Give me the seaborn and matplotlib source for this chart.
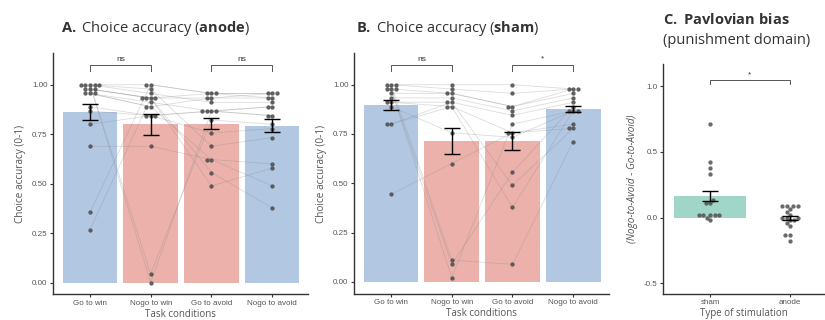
import numpy as np
import pandas as pd
import matplotlib
matplotlib.use("Agg")
import matplotlib.pyplot as plt
import seaborn as sns

# ---- data ----
conditions = ["Go to win", "Nogo to win", "Go to avoid", "Nogo to avoid"]

# anode session, one entry per subject (n = 17)
anode_go_win     = [1.0, 1.0, 0.356, 0.267, 0.689, 0.8, 1.0, 1.0, 1.0, 0.978, 0.978, 0.978, 0.956, 0.956, 0.956, 0.889, 0.867]
anode_nogo_win   = [0.0, 0.044, 1.0, 0.933, 0.689, 0.844, 1.0, 0.978, 0.956, 0.933, 0.933, 0.933, 0.911, 0.889, 0.889, 0.844, 0.844]
anode_go_avoid   = [0.867, 0.822, 0.956, 0.933, 0.622, 0.867, 0.956, 0.689, 0.911, 0.556, 0.956, 0.489, 0.867, 0.622, 0.933, 0.756, 0.867]
anode_nogo_avoid = [0.889, 0.8, 0.956, 0.956, 0.6, 0.844, 0.956, 0.733, 0.911, 0.378, 0.933, 0.578, 0.889, 0.489, 0.933, 0.778, 0.844]
anode_se = [0.040, 0.053, 0.027, 0.033]

# sham session (n = 14)
sham_go_win     = [1.0, 0.978, 0.978, 0.444, 0.8, 0.8, 1.0, 1.0, 0.978, 0.956, 0.933, 0.911, 0.911, 0.889]
sham_nogo_win   = [0.111, 0.022, 0.089, 0.6, 0.889, 0.911, 1.0, 0.978, 0.956, 0.956, 0.933, 0.911, 0.889, 0.756]
sham_go_avoid   = [0.089, 0.8, 0.556, 0.756, 0.378, 0.489, 1.0, 0.956, 0.889, 0.889, 0.867, 0.844, 0.756, 0.733]
sham_nogo_avoid = [0.711, 0.867, 0.889, 0.778, 0.867, 0.778, 0.978, 0.978, 0.956, 0.978, 0.933, 0.911, 0.8, 0.867]
sham_se = [0.026, 0.064, 0.045, 0.016]

# Pavlovian bias (Nogo-to-Avoid minus Go-to-Avoid)
stim_types = ["sham", "anode"]
bias_sham = [0.713, 0.424, 0.378, 0.335, 0.133, 0.111, 0.111, 0.022, 0.022, 0.022, 0.022, 0.022, 0.0, -0.022]
bias_anode = [0.089, 0.089, 0.089, 0.089, 0.067, 0.044, 0.022, 0.0, 0.0, 0.0, -0.022, -0.022,
              -0.044, -0.067, -0.133, -0.133, -0.178]
bias_se = [0.040, 0.015]

# colours
blue, red, teal = "#b1c7e2", "#ebb1aa", "#9fd6c7"
cond_colors = [blue, red, red, blue]
dot_color = "#505050"
text_dark = "#333333"
text_grey = "#555555"

plt.rcParams["font.family"] = ["Liberation Sans", "DejaVu Sans"]
plt.rcParams["mathtext.fontset"] = "custom"
plt.rcParams["mathtext.rm"] = "Open Sans"
plt.rcParams["mathtext.bf"] = "Open Sans:bold"
plt.rcParams["mathtext.it"] = "Open Sans:italic"


def long_table(columns):
    rows = []
    for pos, vals in enumerate(columns):
        for subj, v in enumerate(vals):
            rows.append({"subj": subj, "pos": pos, "cond": conditions[pos], "acc": v})
    return pd.DataFrame(rows)


def style_axis(ax):
    sns.despine(ax=ax)
    for side in ["left", "bottom"]:
        ax.spines[side].set_color(text_dark)
        ax.spines[side].set_linewidth(1.0)
    ax.tick_params(axis="both", length=2.5, width=0.8, color=text_dark,
                   labelsize=5.8, labelcolor=text_grey, pad=1.5)


def bracket(ax, x1, x2, y, label, drop=0.03):
    ax.plot([x1, x1, x2, x2], [y - drop, y, y, y - drop], color="#555555", lw=0.7,
            clip_on=False)
    ax.text((x1 + x2) / 2, y + 0.012, label, ha="center", va="bottom", fontsize=6,
            color=text_dark)


def accuracy_panel(ax, df, se, brackets):
    sns.barplot(data=df, x="pos", y="acc", hue="cond", hue_order=conditions,
                palette=cond_colors, native_scale=True, dodge=False, width=0.9,
                errorbar=None, saturation=1, legend=False, ax=ax, zorder=1)
    sns.lineplot(data=df, x="pos", y="acc", units="subj", estimator=None,
                 color="#8c8c8c", alpha=0.3, lw=0.6, ax=ax, legend=False, zorder=2)
    sns.swarmplot(data=df, x="pos", y="acc", native_scale=True, color=dot_color,
                  size=3.1, alpha=0.9, ax=ax, zorder=3)
    means = df.groupby("pos")["acc"].mean()
    ax.errorbar(means.index, means.values, yerr=se, fmt="none", ecolor="black",
                elinewidth=1.0, capsize=5.5, capthick=1.0, zorder=4)
    for x1, x2, label in brackets:
        bracket(ax, x1, x2, 1.1, label)
    ax.set_xlim(-0.61, 3.59)
    ax.set_ylim(-0.06, 1.16)
    ax.set_yticks([0, 0.25, 0.5, 0.75, 1.0], ["0.00", "0.25", "0.50", "0.75", "1.00"])
    ax.set_xticks(range(4), conditions)
    ax.set_xlabel("Task conditions", fontfamily="Open Sans", fontsize=7.0,
                  color=text_grey, labelpad=1.5)
    ax.set_ylabel("Choice accuracy (0-1)", fontfamily="Open Sans", fontsize=7.2,
                  color=text_grey, labelpad=4)
    style_axis(ax)


fig = plt.figure(figsize=(8.25, 3.2), dpi=100)
axA = fig.add_axes([0.0642, 0.08, 0.3091, 0.754])
axB = fig.add_axes([0.4291, 0.082, 0.3091, 0.752])
axC = fig.add_axes([0.8036, 0.082, 0.1964, 0.718])

anode_df = long_table([anode_go_win, anode_nogo_win, anode_go_avoid, anode_nogo_avoid])
sham_df = long_table([sham_go_win, sham_nogo_win, sham_go_avoid, sham_nogo_avoid])

accuracy_panel(axA, anode_df, anode_se, [(0, 1, "ns"), (2, 3, "ns")])
accuracy_panel(axB, sham_df, sham_se, [(0, 1, "ns"), (2, 3, "*")])

# panel C
bias_df = pd.DataFrame({
    "stim": ["sham"] * len(bias_sham) + ["anode"] * len(bias_anode),
    "pos": [0] * len(bias_sham) + [1] * len(bias_anode),
    "bias": bias_sham + bias_anode,
})
sns.barplot(data=bias_df, x="pos", y="bias", native_scale=True, color=teal, width=0.9,
            errorbar=None, saturation=1, ax=axC, zorder=1)
sns.swarmplot(data=bias_df, x="pos", y="bias", native_scale=True, color=dot_color,
              size=3.1, alpha=0.85, ax=axC, zorder=3)
bias_means = bias_df.groupby("pos")["bias"].mean()
axC.errorbar(bias_means.index, bias_means.values, yerr=bias_se, fmt="none",
             ecolor="black", elinewidth=1.0, capsize=6, capthick=1.0, zorder=4)
bracket(axC, 0, 1, 1.046, "*")
axC.set_xlim(-0.59, 1.44)
axC.set_ylim(-0.58, 1.17)
axC.set_yticks([-0.5, 0, 0.5, 1.0], ["-0.5", "0.0", "0.5", "1.0"])
axC.set_xticks([0, 1], stim_types)
axC.set_xlabel("Type of stimulation", fontfamily="Open Sans", fontsize=7.0,
               color=text_grey, labelpad=1.5)
axC.set_ylabel("(Nogo-to-Avoid - Go-to-Avoid)", fontfamily="Open Sans", fontstyle="italic",
               fontsize=7.2, color=text_grey, labelpad=4)
style_axis(axC)

# titles
title_kw = dict(fontfamily="Open Sans", fontsize=10.5, color=text_dark, va="baseline")
fig.text(0.074, 0.9, r"$\mathbf{A.}$ Choice accuracy ($\mathbf{anode}$)", **title_kw)
fig.text(0.432, 0.9, r"$\mathbf{B.}$ Choice accuracy ($\mathbf{sham}$)", **title_kw)
fig.text(0.804, 0.925, r"$\mathbf{C.\ Pavlovian\ bias}$", **title_kw)
fig.text(0.804, 0.862, "(punishment domain)", **title_kw)

fig.savefig("out.png", dpi=100)
